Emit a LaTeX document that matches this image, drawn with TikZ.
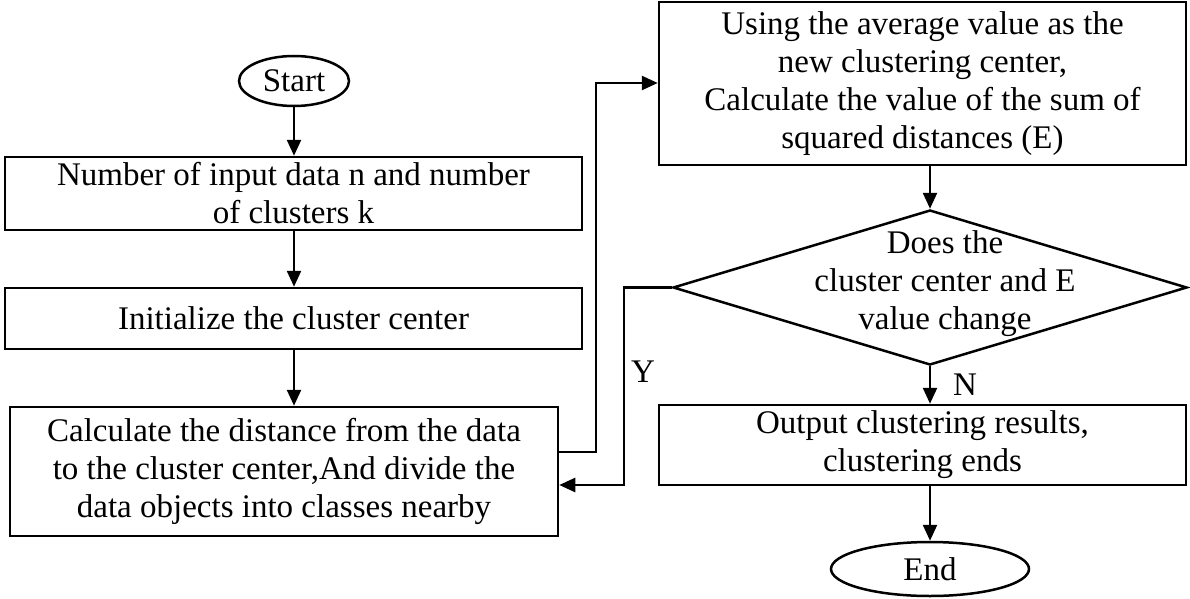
\documentclass[tikz,border=0pt]{standalone}
\usepackage{fontspec}
\setmainfont{Liberation Serif}
\usetikzlibrary{shapes.geometric,arrows.meta}
\begin{document}
\begin{tikzpicture}[x=1pt,y=-1pt,
  every node/.style={font=\fontsize{33}{38}\selectfont, align=center, draw, line width=2.5pt, inner sep=0pt},
  box/.style={rectangle},
  oval/.style={ellipse},
  lbl/.style={draw=none},
  arr/.style={line width=2.5pt,-{Triangle[length=16pt,width=14pt]}}]
\useasboundingbox (0,0) rectangle (1190,599);
\node[oval, minimum width=110pt, minimum height=50pt] (start) at (294,81) {Start};
\node[box, minimum width=577pt, minimum height=73pt] (b1) at (293.5,193.5) {Number of input data n and number\\of clusters k};
\node[box, minimum width=577pt, minimum height=61pt] (b2) at (293.5,318.5) {Initialize the cluster center};
\node[box, minimum width=548pt, minimum height=129pt] (b3) at (284,471.5) {Calculate the distance from the data\\to the cluster center,And divide the\\data objects into classes nearby};
\node[box, minimum width=527pt, minimum height=163pt] (b4) at (922.5,83.5) {Using the average value as the\\new clustering center,\\Calculate the value of the sum of\\squared distances (E)};
\node[diamond, minimum width=514pt, minimum height=155pt, aspect=3.3] (d) at (930,287.5) {};
\node[lbl] (dt) at (945,284) {Does the\\cluster center and E\\value change};
\node[box, minimum width=527pt, minimum height=80pt] (b5) at (922.5,445) {Output clustering results,\\clustering ends};
\node[oval, minimum width=198pt, minimum height=54pt] (end) at (930,569) {End};
\node[lbl] (Y) at (643,372) {Y};
\node[lbl] (N) at (965,385) {N};
\coordinate (c1) at (596,452);
\coordinate (c2) at (596,83);
\coordinate (c3) at (624,287.5);
\coordinate (c4) at (624,485);
\draw[arr] (start) -- (start |- b1.north);
\draw[arr] (b1.south -| start) -- (b2.north -| start);
\draw[arr] (b2.south -| start) -- (b3.north -| start);
\draw[arr] (b3.east |- c1) -- (c1) -- (c2) -- (b4.west |- c2);
\draw[arr] (d.west) -- (c3) -- (c4) -- (b3.east |- c4);
\draw[arr] (b4.south -| d) -- (d.north);
\draw[arr] (d.south) -- (b5.north -| d);
\draw[arr] (b5.south -| d) -- (end);
\end{tikzpicture}
\end{document}
